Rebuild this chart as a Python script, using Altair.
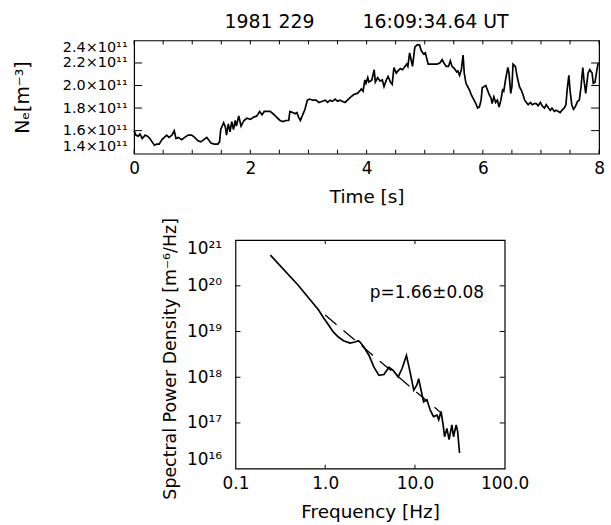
import altair as alt
import pandas as pd

FONT = "DejaVu Sans"
title_text = "1981 229" + "\u00a0" * 8 + "16:09:34.64 UT"

# ---- top panel: electron density time series (units of 1e11 m^-3) ----
time_s = [0, 0.03, 0.07, 0.10, 0.14, 0.19, 0.23, 0.27, 0.31, 0.35, 0.39, 0.43, 0.48, 0.52, 0.56, 0.60,
          0.65, 0.69, 0.72, 0.76, 0.82, 0.87, 0.93, 0.99, 1.04, 1.10, 1.15, 1.20, 1.25, 1.28, 1.32, 1.38,
          1.44, 1.47, 1.49, 1.54, 1.57, 1.59, 1.62, 1.65, 1.68, 1.71, 1.74, 1.76, 1.80, 1.84, 1.89, 1.94,
          2.00, 2.06, 2.11, 2.16, 2.20, 2.24, 2.28, 2.34, 2.39, 2.45, 2.51, 2.56,
          2.61, 2.66, 2.68, 2.73, 2.77, 2.80, 2.83, 2.86, 2.90, 2.94, 2.98, 3.02, 3.07, 3.13, 3.18, 3.24,
          3.29, 3.33, 3.37, 3.41, 3.46, 3.50, 3.54, 3.58, 3.63, 3.67, 3.73, 3.78, 3.84, 3.88, 3.91, 3.94,
          3.97, 3.99, 4.02, 4.04, 4.09, 4.13, 4.15, 4.19, 4.23, 4.27, 4.30, 4.34, 4.37, 4.41, 4.44, 4.47,
          4.51, 4.54, 4.58, 4.62, 4.66, 4.69, 4.71, 4.74, 4.77, 4.79, 4.83, 4.87, 4.91, 4.94, 4.98, 5.01,
          5.06, 5.10, 5.15, 5.21, 5.26, 5.30, 5.33, 5.37, 5.41,
          5.44, 5.47, 5.51, 5.55, 5.57, 5.60, 5.63, 5.66, 5.68, 5.71, 5.74, 5.77, 5.80, 5.84, 5.88, 5.91,
          5.94, 5.97, 5.99, 6.02, 6.05, 6.08, 6.11, 6.14, 6.16, 6.19, 6.22, 6.25, 6.28, 6.31, 6.34, 6.36,
          6.39, 6.43, 6.45, 6.48, 6.50, 6.52, 6.56, 6.59, 6.63, 6.66, 6.69, 6.72, 6.75, 6.78, 6.82, 6.85,
          6.89, 6.92, 6.95, 6.99, 7.02, 7.06, 7.09, 7.13, 7.16, 7.19, 7.23, 7.26, 7.30, 7.33, 7.36, 7.40,
          7.43, 7.45, 7.48, 7.50, 7.53, 7.56, 7.59, 7.63, 7.66, 7.69, 7.72, 7.74, 7.77, 7.81, 7.84, 7.88,
          7.90, 7.93, 7.96, 7.98, 8.00]
ne_1e11 = [1.60, 1.56, 1.55, 1.57, 1.53, 1.56, 1.55, 1.53, 1.50, 1.47, 1.48, 1.48, 1.52, 1.54, 1.56, 1.54,
           1.56, 1.60, 1.53, 1.54, 1.52, 1.54, 1.56, 1.56, 1.54, 1.51, 1.50, 1.52, 1.54, 1.52, 1.49, 1.48,
           1.48, 1.50, 1.61, 1.67, 1.63, 1.56, 1.66, 1.59, 1.68, 1.61, 1.69, 1.64, 1.73, 1.64, 1.69, 1.71,
           1.70, 1.72, 1.73, 1.77, 1.74, 1.77, 1.77, 1.77, 1.75, 1.72, 1.69, 1.68,
           1.69, 1.69, 1.77, 1.76, 1.75, 1.76, 1.72, 1.69, 1.74, 1.79, 1.87, 1.88, 1.87, 1.87, 1.85, 1.86,
           1.87, 1.85, 1.87, 1.86, 1.88, 1.86, 1.87, 1.86, 1.85, 1.87, 1.90, 1.92, 1.93, 1.95, 1.97, 1.95,
           2.05, 2.02, 2.07, 2.03, 2.05, 2.14, 2.03, 2.07, 2.04, 2.05, 1.99, 2.05, 2.08, 2.03, 2.01, 2.16,
           2.11, 2.13, 2.15, 2.14, 2.17, 2.19, 2.17, 2.29, 2.22, 2.17, 2.34, 2.36, 2.36, 2.31, 2.28, 2.29,
           2.19, 2.19, 2.19, 2.19, 2.20, 2.23, 2.20, 2.17, 2.17,
           2.22, 2.17, 2.15, 2.12, 2.13, 2.09, 2.14, 2.27, 2.11, 2.02, 1.99, 1.96, 1.92, 1.88, 1.84, 1.80,
           1.81, 1.87, 1.98, 1.99, 2.00, 1.96, 1.92, 1.89, 1.84, 1.90, 1.85, 1.87, 1.81, 1.87, 1.96, 1.95,
           2.05, 2.16, 2.11, 1.93, 1.99, 2.19, 2.17, 2.08, 1.99, 1.96, 1.92, 1.87, 1.85, 1.83, 1.85, 1.83,
           1.84, 1.84, 1.82, 1.85, 1.82, 1.80, 1.83, 1.80, 1.78, 1.80, 1.77, 1.78, 1.77, 1.76, 1.78, 1.80,
           1.83, 1.96, 2.09, 1.96, 1.83, 1.79, 1.81, 1.86, 1.87, 1.99, 2.16, 2.05, 1.93, 2.11, 2.14, 2.11,
           2.02, 2.03, 2.13, 2.19, 2.20]
time_ticks_major = [0, 2, 4, 6, 8]
time_ticks_minor = [0.5, 1.0, 1.5, 2.5, 3.0, 3.5, 4.5, 5.0, 5.5, 6.5, 7.0, 7.5]
ne_label_values = [1.4, 1.6, 1.8, 2.0, 2.2, 2.4]
ne_tick_values = [1.6, 1.8, 2.0, 2.2]

# ---- bottom panel: power spectrum ----
freq_hz = [0.245, 0.50, 0.84, 0.957, 1.10, 1.23, 1.40, 1.60, 1.89, 2.15, 2.34, 2.44, 2.70, 3.08, 3.49,
           3.97, 4.51, 5.13, 5.71, 6.50, 7.19, 8.04, 8.75, 9.70, 10.5, 11.0, 11.7, 12.5, 13.6, 14.8,
           16.1, 17.6, 18.4, 19.5, 20.5, 21.4, 22.7, 24.0, 25.8, 26.9, 28.8, 29.9, 31.4]
psd = [4.7e20, 1.03e20, 3.0e19, 2.0e19, 1.35e19, 9.8e18, 7.6e18, 6.3e18, 5.6e18, 5.9e18, 6.3e18, 5.9e18,
       4.6e18, 3.0e18, 1.66e18, 1.10e18, 1.15e18, 1.66e18, 1.41e18, 1.02e18, 1.55e18, 3.0e18, 1.41e18,
       5.2e17, 6.8e17, 9.3e17, 5.2e17, 2.9e17, 3.2e17, 1.9e17, 1.38e17, 1.48e17, 1.17e17, 1.78e17,
       9.8e16, 5.0e16, 7.6e16, 4.3e16, 9.1e16, 5.0e16, 9.1e16, 6.5e16, 2.2e16]
fit_freq = [1.0, 20.0]
fit_psd = [2.3e19, 1.6e17]
freq_label_values = [0.1, 1.0, 10.0, 100.0]
freq_tick_values = [1.0, 10.0]
psd_label_values = [1e16, 1e17, 1e18, 1e19, 1e20, 1e21]
psd_tick_values = [1e17, 1e18, 1e19, 1e20]
fit_label = "p=1.66±0.08"
fit_label_f = [13.6]
fit_label_p = [6.9e19]

TW, TH = 468, 114
BW, BH = 271, 230

# ---------- top chart ----------
xs_t = alt.Scale(domain=[0, 8], nice=False, zero=False)
ys_t = alt.Scale(domain=[1.395, 2.4], nice=False, zero=False)
ax_t = alt.Axis(values=time_ticks_major, format="d", title="Time [s]",
                labelFlush=False, labelPadding=7, titlePadding=11,
                labelFontSize=17, titleFontSize=18.5)
ay_t = alt.Axis(values=ne_label_values, title="Nₑ[m⁻³]",
                labelExpr="format(datum.value, '.1f') + '×10¹¹'",
                labelFlush=True, labelOverlap=False, labelPadding=7,
                titleX=-112, titleY=TH / 2, titleBaseline="middle", titleAlign="center",
                labelFontSize=14.5, titleFontSize=19)

ts_df = pd.DataFrame({"time": time_s, "ne": ne_1e11})
line_top = alt.Chart(ts_df).mark_line(color="black", strokeWidth=1.7).encode(
    x=alt.X("time:Q", scale=xs_t, axis=ax_t),
    y=alt.Y("ne:Q", scale=ys_t, axis=ay_t),
)

tmaj = pd.DataFrame({"time": time_ticks_major})
tmin = pd.DataFrame({"time": time_ticks_minor})
tick_layers = []
for d in (tmaj, tmin):
    tick_layers.append(alt.Chart(d).mark_rule(color="black", strokeWidth=1).encode(
        x=alt.X("time:Q", scale=xs_t, axis=ax_t), y=alt.value(TH), y2=alt.value(TH - 4)))
    tick_layers.append(alt.Chart(d).mark_rule(color="black", strokeWidth=1).encode(
        x=alt.X("time:Q", scale=xs_t, axis=ax_t), y=alt.value(0), y2=alt.value(4)))
ny = pd.DataFrame({"ne": ne_tick_values})
tick_layers.append(alt.Chart(ny).mark_rule(color="black", strokeWidth=1).encode(
    y=alt.Y("ne:Q", scale=ys_t, axis=ay_t), x=alt.value(0), x2=alt.value(8)))
tick_layers.append(alt.Chart(ny).mark_rule(color="black", strokeWidth=1).encode(
    y=alt.Y("ne:Q", scale=ys_t, axis=ay_t), x=alt.value(TW - 8), x2=alt.value(TW)))

top = alt.layer(line_top, *tick_layers).properties(
    width=TW, height=TH,
    title=alt.TitleParams(text=title_text, font=FONT, fontSize=19, fontWeight="normal",
                          color="black", anchor="middle", baseline="alphabetic", offset=-7),
)

# ---------- bottom chart ----------
xs_b = alt.Scale(type="log", domain=[0.1, 100], nice=False)
ys_b = alt.Scale(type="log", domain=[1e16, 1e21], nice=False)
ax_b = alt.Axis(values=freq_label_values, title="Frequency [Hz]",
                labelExpr="format(datum.value, '.1f')",
                labelFlush=False, labelOverlap=False, labelPadding=7, titlePadding=11,
                labelFontSize=17, titleFontSize=18.5)
ay_b = alt.Axis(values=psd_label_values, title="Spectral Power Density [m⁻⁶/Hz]",
                labelExpr="['10¹⁶','10¹⁷','10¹⁸','10¹⁹','10²⁰','10²¹'][round(log(datum.value)/LN10) - 16]",
                labelFlush=True, labelOverlap=False, labelPadding=14,
                titleX=-65, titleY=119, titleBaseline="middle", titleAlign="center",
                labelFontSize=17, titleFontSize=17.5)

sp_df = pd.DataFrame({"f": freq_hz, "P": psd})
fit_df = pd.DataFrame({"f": fit_freq, "P": fit_psd})

spec_line = alt.Chart(sp_df).mark_line(color="black", strokeWidth=1.7).encode(
    x=alt.X("f:Q", scale=xs_b, axis=ax_b),
    y=alt.Y("P:Q", scale=ys_b, axis=ay_b),
)
fit_line = alt.Chart(fit_df).mark_line(color="black", strokeWidth=1.3, strokeDash=[15, 9]).encode(
    x=alt.X("f:Q", scale=xs_b, axis=ax_b), y=alt.Y("P:Q", scale=ys_b, axis=ay_b))
fit_text = alt.Chart(pd.DataFrame({"f": fit_label_f, "P": fit_label_p,
                                   "lab": [fit_label]})).mark_text(
    font=FONT, fontSize=17, color="black", align="center", baseline="middle").encode(
    x=alt.X("f:Q", scale=xs_b, axis=ax_b), y=alt.Y("P:Q", scale=ys_b, axis=ay_b), text="lab:N")

fx = pd.DataFrame({"f": freq_tick_values})
fy = pd.DataFrame({"P": psd_tick_values})
btick = [
    alt.Chart(fx).mark_rule(color="black", strokeWidth=1).encode(
        x=alt.X("f:Q", scale=xs_b, axis=ax_b), y=alt.value(BH), y2=alt.value(BH - 4)),
    alt.Chart(fx).mark_rule(color="black", strokeWidth=1).encode(
        x=alt.X("f:Q", scale=xs_b, axis=ax_b), y=alt.value(0), y2=alt.value(4)),
    alt.Chart(fy).mark_rule(color="black", strokeWidth=1).encode(
        y=alt.Y("P:Q", scale=ys_b, axis=ay_b), x=alt.value(0), x2=alt.value(5)),
    alt.Chart(fy).mark_rule(color="black", strokeWidth=1).encode(
        y=alt.Y("P:Q", scale=ys_b, axis=ay_b), x=alt.value(BW - 5), x2=alt.value(BW)),
]
spectrum = alt.layer(spec_line, fit_line, fit_text, *btick).properties(width=BW, height=BH)

spacer = alt.Chart(pd.DataFrame({"a": [0]})).mark_point(opacity=0).encode(
    x=alt.value(0), y=alt.value(0)
).properties(width=102, height=BH, view=alt.ViewBackground(stroke="transparent"))

bottom_row = alt.hconcat(spacer, spectrum, spacing=0, bounds="flush")

chart = alt.vconcat(top, bottom_row, spacing=87, bounds="flush").properties(
    padding={"left": 13, "top": 10, "right": 5, "bottom": 2},
    background="white",
).configure_view(stroke="black", strokeWidth=1.2).configure_axis(
    labelFont=FONT, titleFont=FONT, labelColor="black", titleColor="black",
    titleFontWeight="normal", grid=False, ticks=False, domain=False,
).configure_text(font=FONT)

chart.save("out.html", embed_options={"renderer": "svg", "actions": False})
